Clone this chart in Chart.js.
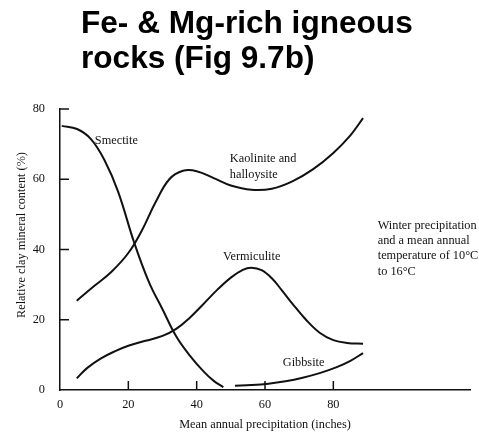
<!DOCTYPE html>
<html>
<head>
<meta charset="utf-8">
<title>Fe- & Mg-rich igneous rocks</title>
<script src="https://cdn.jsdelivr.net/npm/chart.js@4"></script>
<style>
    html, body { margin: 0; padding: 0; background: #fff; }
    #wrap { position: relative; width: 479px; height: 433px; overflow: hidden; }
    #title {
        position: absolute; left: 81px; top: 5px; margin: 0;
        font: bold 31.6px "Liberation Sans", Arial, sans-serif;
        line-height: 35px; color: #000;
    }
    canvas { position: absolute; left: 0; top: 0; }
</style>
</head>
<body>
<div id="wrap">
    <canvas id="chart" width="479" height="433"></canvas>
    <h1 id="title">Fe- &amp; Mg-rich igneous<br>rocks (Fig 9.7b)</h1>
</div>
<script>
// Tick labels
const precipTicks = [0, 20, 40, 60, 80];
const contentTicks = [0, 20, 40, 60, 80];

// Curves (x = precipitation in inches, y = % clay mineral)
const smectiteX = [0.5, 5, 9, 13, 17, 21.7, 26, 30, 34, 38, 42, 45, 47.8];
const smectiteY = [75.2, 74.3, 71.5, 65.5, 56.5, 42, 30.8, 23, 15.3, 9.8, 5.3, 2.6, 0.8];

const kaoliniteX = [4.9, 10, 15, 20, 24, 28, 32, 36, 40, 45, 50, 56, 62, 68, 74, 80, 85, 88.7];
const kaoliniteY = [25.4, 29.6, 33.6, 39, 45.5, 53.5, 60, 62.4, 62.3, 60.3, 58.2, 57, 57.3, 59.4, 62.8, 67.5, 72.5, 77.4];

const vermiculiteX = [4.9, 8, 12, 16, 20, 25, 30, 34, 38, 42, 46, 50, 53.5, 56, 59, 62, 65, 68, 72, 76, 80, 84, 88.7];
const vermiculiteY = [3.3, 6.3, 9, 11, 12.6, 14, 15.4, 17.4, 20.6, 24.5, 28.5, 32, 34.2, 34.8, 34.1, 31.8, 28.3, 24.6, 20, 16.3, 14.2, 13.4, 13.2];

const gibbsiteX = [51.2, 56, 61, 66, 71, 76, 81, 85, 88.7];
const gibbsiteY = [1.2, 1.4, 1.8, 2.5, 3.5, 4.8, 6.5, 8.3, 10.5];

const serif = '"Liberation Serif", "Times New Roman", serif';
const ink = '#111';

// Text notes placed in data units
const notes = [
    { x: 10.2, y: 70.1, lines: ['Smectite'] },
    { x: 49.7, y: 64.8, lines: ['Kaolinite and', 'halloysite'] },
    { x: 47.7, y: 37.0, lines: ['Vermiculite'] },
    { x: 65.2, y: 6.8, lines: ['Gibbsite'] },
    { x: 93, y: 45.9, lines: ['Winter precipitation', 'and a mean annual', 'temperature of 10°C', 'to 16°C'] }
];

function toPoints(xs, ys) {
    return xs.map((x, i) => ({ x: x, y: ys[i] }));
}

function curve(label, xs, ys) {
    return {
        label: label,
        data: toPoints(xs, ys),
        borderColor: ink,
        borderWidth: 2,
        pointRadius: 0,
        fill: false,
        tension: 0.4
    };
}

// inward ticks, curve labels and the vertical axis title
const overlay = {
    id: 'overlay',
    afterDraw(chart) {
        const ctx = chart.ctx;
        const x = chart.scales.x;
        const y = chart.scales.y;
        ctx.save();
        ctx.strokeStyle = ink;
        ctx.lineWidth = 1.5;
        precipTicks.forEach(v => {
            if (v === 0) return;
            const px = x.getPixelForValue(v);
            ctx.beginPath();
            ctx.moveTo(px, y.bottom);
            ctx.lineTo(px, y.bottom - 9);
            ctx.stroke();
        });
        contentTicks.forEach(v => {
            if (v === 0) return;
            const py = y.getPixelForValue(v);
            ctx.beginPath();
            ctx.moveTo(x.left, py);
            ctx.lineTo(x.left + 9, py);
            ctx.stroke();
        });

        ctx.fillStyle = ink;
        ctx.font = '12.3px ' + serif;
        ctx.textAlign = 'left';
        ctx.textBaseline = 'alphabetic';
        notes.forEach(n => {
            const px = x.getPixelForValue(n.x);
            const py = y.getPixelForValue(n.y);
            n.lines.forEach((t, i) => ctx.fillText(t, px, py + i * 15.3));
        });

        ctx.translate(22, 235);
        ctx.rotate(-Math.PI / 2);
        ctx.textAlign = 'center';
        ctx.textBaseline = 'middle';
        ctx.fillText('Relative clay mineral content (%)', 0, 0);
        ctx.restore();
    }
};

new Chart(document.getElementById('chart'), {
    type: 'line',
    data: {
        datasets: [
            curve('Smectite', smectiteX, smectiteY),
            curve('Kaolinite and halloysite', kaoliniteX, kaoliniteY),
            curve('Vermiculite', vermiculiteX, vermiculiteY),
            curve('Gibbsite', gibbsiteX, gibbsiteY)
        ]
    },
    options: {
        responsive: false,
        animation: false,
        devicePixelRatio: 1,
        layout: { padding: { top: 109, right: 9, left: 0, bottom: 0 } },
        plugins: {
            legend: { display: false },
            tooltip: { enabled: false }
        },
        scales: {
            x: {
                type: 'linear',
                min: 0,
                max: 120,
                afterBuildTicks: s => { s.ticks = precipTicks.map(v => ({ value: v })); },
                afterFit: s => { s.height = 43; },
                grid: { display: false, drawTicks: false },
                border: { display: true, color: ink, width: 1.5 },
                ticks: { color: ink, font: { family: serif, size: 12.3 }, padding: 7, maxRotation: 0 },
                title: {
                    display: true,
                    text: 'Mean annual precipitation (inches)',
                    color: ink,
                    font: { family: serif, size: 12.3 },
                    padding: { top: 0, bottom: 1 }
                }
            },
            y: {
                min: 0,
                max: 80,
                afterBuildTicks: s => { s.ticks = contentTicks.map(v => ({ value: v })); },
                afterFit: s => { s.width = 60; },
                grid: { display: false, drawTicks: false },
                border: { display: true, color: ink, width: 1.5 },
                ticks: { color: ink, font: { family: serif, size: 12.3 }, padding: 15 }
            }
        }
    },
    plugins: [overlay]
});
</script>
</body>
</html>
